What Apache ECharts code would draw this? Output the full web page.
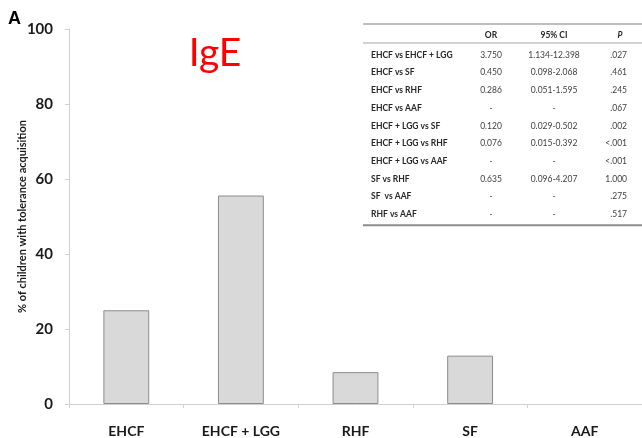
<!DOCTYPE html>
<html>
<head>
<meta charset="utf-8">
<script src="https://cdn.jsdelivr.net/npm/echarts@6/dist/echarts.min.js"></script>
<style>
html,body{margin:0;padding:0;background:#fff;}
#chart{width:642px;height:438px;}
</style>
</head>
<body>
<div id="chart"></div>
<script>
// ---- data ----
const categories = ['EHCF', 'EHCF + LGG', 'RHF', 'SF', 'AAF'];
const tolerancePct = [25.0, 55.6, 8.5, 12.9, 0];
const yTicks = [0, 20, 40, 60, 80, 100];

const tableHeader = ['', 'OR', '95% CI', 'P'];
const comparisons = ['EHCF vs EHCF + LGG', 'EHCF vs SF', 'EHCF vs RHF', 'EHCF vs AAF',
  'EHCF + LGG vs SF', 'EHCF + LGG vs RHF', 'EHCF + LGG vs AAF', 'SF vs RHF', 'SF  vs AAF', 'RHF vs AAF'];
const orValues = ['3.750', '0.450', '0.286', '-', '0.120', '0.076', '-', '0.635', '-', '-'];
const ciValues = ['1.134-12.398', '0.098-2.068', '0.051-1.595', '-', '0.029-0.502', '0.015-0.392', '-', '0.096-4.207', '-', '-'];
const pValues = ['.027', '.461', '.245', '.067', '.002', '<.001', '<.001', '1.000', '.275', '.517'];

// ---- table graphics ----
const FONT = 'Lato, "Open Sans", sans-serif';
const tbl = {left: 363, right: 642, top: 24, headerY: 35, headerLine: 43, row0: 55, rowH: 17.7,
  colLabel: 371, colOR: 491, colCI: 554, colP: 627, colPHead: 620};
const g = [];
g.push({type: 'line', shape: {x1: tbl.left, y1: tbl.top, x2: tbl.right, y2: tbl.top}, style: {stroke: '#7f7f7f', lineWidth: 1}});
g.push({type: 'line', shape: {x1: tbl.left, y1: tbl.headerLine, x2: tbl.right, y2: tbl.headerLine}, style: {stroke: '#a6a6a6', lineWidth: 1}});
const lastY = tbl.row0 + tbl.rowH * (comparisons.length - 1);
g.push({type: 'line', shape: {x1: tbl.left, y1: lastY + 11, x2: tbl.right, y2: lastY + 11}, style: {stroke: '#8c8c8c', lineWidth: 2}});
function txt(x, y, s, align, weight, style) {
  g.push({type: 'text', x: x, y: y, style: {text: s, fill: '#262626', font: (style || 'normal') + ' ' + weight + ' 8.5px ' + FONT, textAlign: align, textVerticalAlign: 'middle'}});
}
txt(tbl.colOR, tbl.headerY, tableHeader[1], 'center', 'bold');
txt(tbl.colCI, tbl.headerY, tableHeader[2], 'center', 'bold');
txt(tbl.colPHead, tbl.headerY, tableHeader[3], 'center', 'bold', 'italic');
comparisons.forEach(function (c, i) {
  const y = tbl.row0 + tbl.rowH * i;
  txt(tbl.colLabel, y, c, 'left', 'bold');
  g.push({type: 'text', x: tbl.colOR, y: y, style: {text: orValues[i], fill: '#404040', font: 'normal 8.5px ' + FONT, textAlign: 'center', textVerticalAlign: 'middle'}});
  g.push({type: 'text', x: tbl.colCI, y: y, style: {text: ciValues[i], fill: '#404040', font: 'normal 8.5px ' + FONT, textAlign: 'center', textVerticalAlign: 'middle'}});
  g.push({type: 'text', x: tbl.colP, y: y, style: {text: pValues[i], fill: '#404040', font: 'normal 8.5px ' + FONT, textAlign: 'right', textVerticalAlign: 'middle'}});
});
// panel letter and title
g.push({type: 'text', x: 8, y: 19, style: {text: 'A', fill: '#000', font: 'bold 18px "Liberation Sans", Arial, sans-serif', textVerticalAlign: 'middle'}});
g.push({type: 'text', x: 215, y: 53, style: {text: 'IgE', fill: '#ff0000', font: 'normal 39px ' + FONT, textAlign: 'center', textVerticalAlign: 'middle'}});

const barData = tolerancePct.map(function (v) {
  return v === 0 ? {value: v, itemStyle: {borderWidth: 0}} : v;
});

const chart = echarts.init(document.getElementById('chart'), null, {renderer: 'canvas'});
chart.setOption({
  animation: false,
  backgroundColor: '#fff',
  grid: {left: 69, right: 0, top: 29, bottom: 34, containLabel: false, outerBoundsMode: 'none'},
  xAxis: {
    type: 'category', data: categories,
    axisLine: {lineStyle: {color: '#d0d0d0', width: 1}},
    axisTick: {show: true, length: 4, lineStyle: {color: '#d0d0d0'}},
    axisLabel: {color: '#1a1a1a', fontFamily: FONT, fontWeight: 'bold', fontSize: 14, margin: 20}
  },
  yAxis: {
    type: 'value', min: 0, max: 100, interval: 20,
    name: '% of children with tolerance acquisition', nameLocation: 'middle', nameGap: 41,
    nameMoveOverlap: false,
    nameTextStyle: {color: '#1a1a1a', fontFamily: FONT, fontWeight: 'bold', fontSize: 11},
    axisLine: {show: true, lineStyle: {color: '#d0d0d0', width: 1}},
    axisTick: {show: true, length: 4, lineStyle: {color: '#d0d0d0'}},
    splitLine: {show: false},
    axisLabel: {color: '#1a1a1a', fontFamily: FONT, fontWeight: 'bold', fontSize: 15, margin: 16,
      formatter: function (v) { return yTicks.indexOf(v) >= 0 ? String(v) : ''; }}
  },
  series: [{
    type: 'bar', data: barData, barWidth: '40%',
    itemStyle: {color: '#d9d9d9', borderColor: '#8c8c8c', borderWidth: 1}
  }],
  graphic: g
});
</script>
</body>
</html>
